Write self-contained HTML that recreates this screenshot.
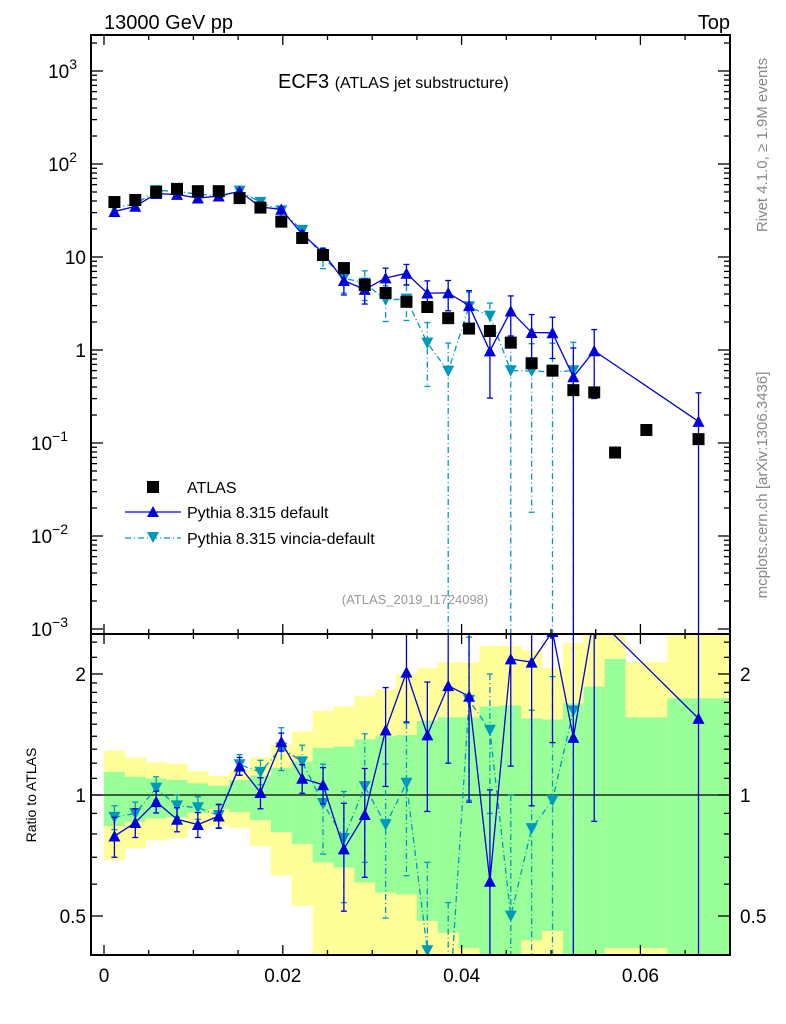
<!DOCTYPE html>
<html><head><meta charset="utf-8"><style>
html,body{margin:0;padding:0;background:#fff;}
svg{display:block;font-family:"Liberation Sans",sans-serif;}
</style></head><body>
<svg id="chart" width="786" height="1024" viewBox="0 0 786 1024" xmlns="http://www.w3.org/2000/svg">
<text x="104" y="29" font-size="20">13000 GeV pp</text>
<text x="730" y="29" font-size="20" text-anchor="end">Top</text>
<text x="278" y="88" font-size="20">ECF3 <tspan font-size="16">(ATLAS jet substructure)</tspan></text>
<text transform="translate(767,145) rotate(-90)" font-size="15" fill="#888" text-anchor="middle">Rivet 4.1.0, ≥ 1.9M events</text>
<text transform="translate(767,485) rotate(-90)" font-size="15" fill="#888" text-anchor="middle">mcplots.cern.ch [arXiv:1306.3436]</text>
<text x="415" y="604" font-size="13" fill="#999" text-anchor="middle">(ATLAS_2019_I1724098)</text>
<text transform="translate(36,795) rotate(-90)" font-size="14" text-anchor="middle">Ratio to ATLAS</text>
<g id="g-bands"></g><g id="g-main"></g><g id="g-ratio"></g><g id="g-axes"></g>
<g>
<rect x="147" y="481" width="12" height="12" fill="#000"/>
<text x="187" y="493" font-size="16">ATLAS</text>
<line x1="125" y1="512" x2="181" y2="512" stroke="#0000dd" stroke-width="1.3"/>
<polygon points="153,506 147,517 159,517" fill="#0000dd"/>
<text x="187" y="518" font-size="16">Pythia 8.315 default</text>
<line x1="125" y1="538" x2="181" y2="538" stroke="#0099bb" stroke-width="1.3" stroke-dasharray="6,3,1,3"/>
<polygon points="147,532 159,532 153,543" fill="#0099bb"/>
<text x="187" y="544" font-size="16">Pythia 8.315 vincia-default</text>
</g>
</svg>
<script>
const binEdgesUnits = [0,1,2,3,4,5,6,7,8,9,10,11,12,13,14,15,16,17,18,19,20,21,22,23,24,25,27,30];
const atlasValues = [39,41,50,54,51,51,43,34,24,16,10.5,7.6,5,4.1,3.3,2.9,2.2,1.7,1.6,1.2,0.72,0.6,0.37,0.35,0.079,0.138,0.11];
const defaultRatio = [0.79,0.854,0.962,0.87,0.844,0.886,1.18,1.014,1.356,1.10,1.06,0.734,0.894,1.45,2.02,1.41,1.87,1.76,0.61,2.18,2.14,2.55,1.39,2.8,null,null,1.55];
const defaultErr = [0.09,0.07,0.06,0.06,0.06,0.06,0.06,0.09,0.07,0.09,0.11,0.22,0.27,0.4,0.5,0.5,0.67,0.8,0.42,1.0,1.2,1.2,1.45,1.94,null,null,1.6];
const vinciaRatio = [0.88,0.90,1.04,0.94,0.93,0.89,1.19,1.14,1.31,1.21,0.953,0.78,1.05,0.844,1.07,0.41,0.27,1.72,1.45,0.50,0.825,0.97,1.62,null,null,null,null];
const vinciaErr = [0.06,0.06,0.07,0.06,0.06,0.06,0.07,0.08,0.16,0.12,0.24,0.24,0.37,0.35,0.44,0.27,0.27,0.75,0.55,0.5,0.8,1.0,1.65,null,null,null,null];
const greenHi = [1.14,1.11,1.10,1.09,1.07,1.055,1.09,1.118,1.167,1.21,1.31,1.32,1.375,1.40,1.41,1.53,1.56,1.56,1.66,1.67,1.55,1.54,1.69,1.86,2.18,1.56,1.74];
const greenLo = [0.837,0.857,0.874,0.88,0.903,0.923,0.908,0.866,0.809,0.756,0.68,0.66,0.606,0.572,0.566,0.486,0.454,0.416,0.3,0.3,0.436,0.459,0.3,0.3,0.416,0.416,0.3];
const yellowHi = [1.29,1.24,1.206,1.196,1.145,1.116,1.15,1.24,1.335,1.44,1.62,1.66,1.76,1.83,2.0,2.07,2.14,2.14,2.35,2.35,2.29,2.07,2.39,2.6,2.6,2.14,2.6];
const yellowLo = [0.689,0.737,0.771,0.781,0.824,0.84,0.828,0.746,0.63,0.53,0.3,0.3,0.3,0.3,0.3,0.3,0.3,0.3,0.3,0.3,0.3,0.3,0.3,0.3,0.3,0.3,0.3];
const xTickLabels = ["0","0.02","0.04","0.06"];
const ratioTickValues = [0.5,1,2];
const ratioTickLabels = ["0.5","1","2"];

const NS="http://www.w3.org/2000/svg";
const UNIT=0.07/30;
const FL=91, FR=730, MT=35, MB=634, RB=955;
function X(x){return 104+8940*x;}
function YM(v){return 350-93*Math.log10(v);}
function YR(r){return 795-402*Math.log10(r);}
function clamp(v,a,b){return Math.max(a,Math.min(b,v));}
function mk(tag,attrs,parent){const e=document.createElementNS(NS,tag);for(const k in attrs)e.setAttribute(k,attrs[k]);parent.appendChild(e);return e;}
const gB=document.getElementById('g-bands'),gM=document.getElementById('g-main'),gR=document.getElementById('g-ratio'),gA=document.getElementById('g-axes');
const n=atlasValues.length;
const centers=[];
for(let i=0;i<n;i++)centers.push((binEdgesUnits[i]+binEdgesUnits[i+1])/2*UNIT);

// bands
for(let i=0;i<n;i++){
  const x0=X(binEdgesUnits[i]*UNIT),x1=X(binEdgesUnits[i+1]*UNIT);
  const yt=clamp(YR(yellowHi[i]),MB,RB),yb=clamp(YR(yellowLo[i]),MB,RB);
  const r1=mk('rect',{x:x0,y:yt,width:x1-x0+0.3,height:yb-yt,fill:'#ffff99'},gB);
  
  
  const gt=clamp(YR(greenHi[i]),MB,RB),gb=clamp(YR(greenLo[i]),MB,RB);
  const r2=mk('rect',{x:x0,y:gt,width:x1-x0+0.3,height:gb-gt,fill:'#99ff99'},gB);
  
  
}
mk('line',{x1:FL,y1:YR(1),x2:FR,y2:YR(1),stroke:'#000','stroke-width':1.2},gB);

function drawSeries(ratio,err,color,dash,up,name){
  const clipM='cm',clipR='cr';
  let ptsM=[],ptsR=[];
  for(let i=0;i<n;i++){
    if(ratio[i]==null)continue;
    const x=X(centers[i]);
    const vm=ratio[i]*atlasValues[i];
    ptsM.push([x,YM(vm)]);ptsR.push([x,YR(ratio[i])]);
    // error bars
    const e=err[i];
    const lo=ratio[i]-e, hi=ratio[i]+e;
    const yhiM=clamp(YM(hi*atlasValues[i]),MT,MB), yloM=lo>0?clamp(YM(lo*atlasValues[i]),MT,MB):MB;
    const yhiR=clamp(YR(hi),MB,RB), yloR=lo>0?clamp(YR(lo),MB,RB):RB;
    const a={stroke:color,'stroke-width':1.3};if(dash)a['stroke-dasharray']=dash;
    const eb1=mk('line',Object.assign({x1:x,x2:x,y1:yhiM,y2:yloM},a),gM);
    
    
    const eb2=mk('line',Object.assign({x1:x,x2:x,y1:yhiR,y2:yloR},a),gR);
    
    
    [[yhiM,MT,MB,gM],[yloM,MT,MB,gM],[yhiR,MB,RB,gR],[yloR,MB,RB,gR]].forEach(t=>{
      if(t[0]>t[1]+1&&t[0]<t[2]-1)mk('line',{x1:x-3,x2:x+3,y1:t[0],y2:t[0],stroke:color,'stroke-width':1.3},t[3]);
    });
  }
  const la={fill:'none',stroke:color,'stroke-width':1.3};if(dash)la['stroke-dasharray']=dash;
  const p1=mk('polyline',Object.assign({points:ptsM.map(p=>p.join(',')).join(' '),'clip-path':'url(#'+clipM+')'},la),gM);
  
  
  const p2=mk('polyline',Object.assign({points:ptsR.map(p=>p.join(',')).join(' '),'clip-path':'url(#'+clipR+')'},la),gR);
  
  
  function tri(x,y,g){
    if(y<MT-6||(g===gR&&(y<MB-6||y>RB+6))||(g===gM&&y>MB+6))return;
    const s=6;
    const pts=up?`${x},${y-s} ${x-s},${y+s*0.9} ${x+s},${y+s*0.9}`:`${x-s},${y-s*0.9} ${x+s},${y-s*0.9} ${x},${y+s}`;
    const t=mk('polygon',{points:pts,fill:color,'clip-path':'url(#'+(g===gM?clipM:clipR)+')'},g);
    
    
  }
  ptsM.forEach(p=>tri(p[0],p[1],gM));ptsR.forEach(p=>tri(p[0],p[1],gR));
}
const defs=mk('defs',{},document.getElementById('chart'));
mk('rect',{x:FL,y:MT,width:FR-FL,height:MB-MT},mk('clipPath',{id:'cm'},defs));
mk('rect',{x:FL,y:MB,width:FR-FL,height:RB-MB},mk('clipPath',{id:'cr'},defs));

drawSeries(vinciaRatio,vinciaErr,'#0099bb','6,3,1,3',false,'vincia');
drawSeries(defaultRatio,defaultErr,'#0000dd',null,true,'default');
for(let i=0;i<n;i++){
  const s=mk('rect',{x:X(centers[i])-6,y:YM(atlasValues[i])-6,width:12,height:12,fill:'#000'},gM);
  
  
}

// frames
const f1=mk('rect',{x:FL,y:MT,width:FR-FL,height:MB-MT,fill:'none',stroke:'#000','stroke-width':2},gA);


const f2=mk('rect',{x:FL,y:MB,width:FR-FL,height:RB-MB,fill:'none',stroke:'#000','stroke-width':2},gA);


function tk(x1,y1,x2,y2){mk('line',{x1,y1,x2,y2,stroke:'#000','stroke-width':1.3},gA);}
// x ticks
for(let k=0;k<=14;k++){
  const x=X(k*0.005);if(x>FR)break;
  const L=(k%4===0)?10:5;
  tk(x,MT,x,MT+L);tk(x,MB,x,MB-L);tk(x,MB,x,MB+L);tk(x,RB,x,RB-L);
}
xTickLabels.forEach((lab,i)=>{
  const t=mk('text',{x:X(i*0.02),y:982,'font-size':19,'text-anchor':'middle'},gA);t.textContent=lab;
  
  
});
// main y ticks
for(let d=-3;d<=3;d++){
  for(let m=1;m<=9;m++){
    const v=m*Math.pow(10,d);const y=YM(v);
    if(y<MT||y>MB)continue;
    const L=m===1?12:6;
    tk(FL,y,FL+L,y);tk(FR,y,FR-L,y);
  }
  const y=YM(Math.pow(10,d));
  const t=mk('text',{x:86,y:y+7,'font-size':19,'text-anchor':'end'},gA);
  
  
  if(d===0)t.textContent='1';else if(d===1)t.textContent='10';
  else{t.textContent='10';const s=document.createElementNS(NS,'tspan');s.setAttribute('dy','-9');s.setAttribute('font-size','14');s.textContent=String(d).replace('-','−');t.appendChild(s);}
  if(d!==0&&d!==1){t.setAttribute('x',86-(d<0?18:9));}
}
// ratio ticks
[0.4,0.6,0.7,0.8,0.9,1.1,1.2,1.3,1.4,1.5,1.6,1.7,1.8,1.9,2.2,2.4].forEach(r=>{const y=YR(r);if(y>MB&&y<RB){tk(FL,y,FL+6,y);tk(FR,y,FR-6,y);}});
ratioTickValues.forEach((r,i)=>{
  const y=YR(r);tk(FL,y,FL+12,y);tk(FR,y,FR-12,y);
  const t=mk('text',{x:86,y:y+7,'font-size':19,'text-anchor':'end'},gA);t.textContent=ratioTickLabels[i];
  
  
  const t2=mk('text',{x:740,y:y+7,'font-size':19},gA);t2.textContent=ratioTickLabels[i];
  
  
});
</script>
</body></html>
